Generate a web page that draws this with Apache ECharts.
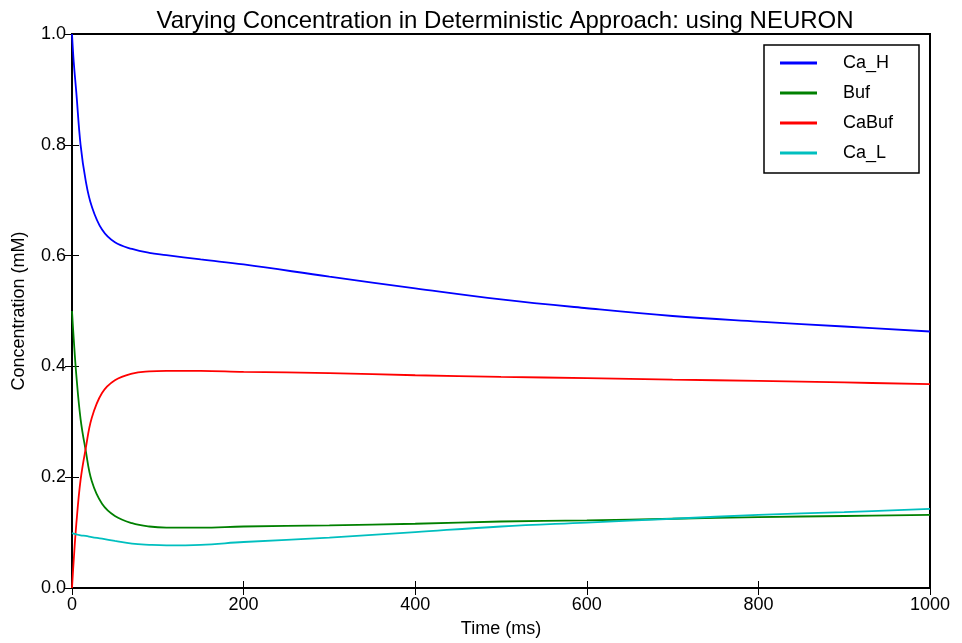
<!DOCTYPE html>
<html>
<head>
<meta charset="utf-8">
<script src="https://cdn.jsdelivr.net/npm/echarts@6/dist/echarts.min.js"></script>
<style>
html,body{margin:0;padding:0;background:#fff;}
#chart{width:962px;height:643px;}
</style>
</head>
<body>
<div id="chart"></div>
<script>
// Time points (ms)
var timeMs = [0, 2, 5, 10, 16, 23, 35, 50, 70, 90, 110, 150, 200, 300, 400, 500, 600, 700, 800, 900, 1000];
// Concentrations (mM)
var caH   = [1.0, 0.95, 0.895, 0.80, 0.735, 0.689, 0.647, 0.624, 0.612, 0.605, 0.601, 0.593, 0.584, 0.562, 0.541, 0.521, 0.505, 0.491, 0.481, 0.472, 0.463];
var buf   = [0.5, 0.45, 0.385, 0.305, 0.248, 0.193, 0.152, 0.130, 0.117, 0.111, 0.109, 0.109, 0.111, 0.113, 0.116, 0.120, 0.122, 0.125, 0.128, 0.130, 0.132];
var caBuf = [0.0, 0.05, 0.115, 0.195, 0.252, 0.307, 0.352, 0.375, 0.387, 0.391, 0.392, 0.392, 0.390, 0.388, 0.384, 0.381, 0.379, 0.376, 0.374, 0.371, 0.368];
var caL   = [0.099, 0.098, 0.097, 0.095, 0.094, 0.092, 0.089, 0.085, 0.080, 0.078, 0.077, 0.078, 0.083, 0.091, 0.101, 0.111, 0.118, 0.125, 0.132, 0.137, 0.143];
var seriesNames = ['Ca_H', 'Buf', 'CaBuf', 'Ca_L'];
var seriesColors = ['#0000ff', '#008000', '#ff0000', '#00bfbf'];
var xTicks = [0, 200, 400, 600, 800, 1000];
var yTicks = [0.0, 0.2, 0.4, 0.6, 0.8, 1.0];

function pairs(vals) {
  return timeMs.map(function (t, i) { return [t, vals[i]]; });
}
var allValues = [caH, buf, caBuf, caL];
var FONT = 'Liberation Sans, Arial, sans-serif';

var chart = echarts.init(document.getElementById('chart'), null, {renderer: 'canvas'});
var tickStyle = {show: true, inside: true, length: 7, lineStyle: {color: '#000', width: 1}};
var option = {
  animation: false,
  backgroundColor: '#fff',
  title: {
    text: 'Varying Concentration in Deterministic Approach: using NEURON',
    left: 500, top: 4, textAlign: 'center',
    textStyle: {fontFamily: FONT, fontSize: 24, fontWeight: 'normal', color: '#000'}
  },
  legend: {
    orient: 'vertical',
    left: 764, top: 45,
    padding: [8, 11, 10, 16],
    itemGap: 10,
    itemWidth: 37, itemHeight: 3,
    icon: 'rect',
    backgroundColor: '#fff',
    borderColor: '#000', borderWidth: 1.5,
    textStyle: {fontFamily: FONT, fontSize: 18, color: '#000', lineHeight: 20, width: 65, padding: [0, 0, 0, 21]},
    data: seriesNames
  },
  grid: {
    left: 72, right: 32, top: 34, bottom: 53,
    show: true, borderColor: '#000', borderWidth: 2, backgroundColor: 'transparent'
  },
  xAxis: [{
    type: 'value', min: 0, max: 1000, interval: 200,
    name: 'Time (ms)', nameLocation: 'middle', nameGap: 32,
    nameTextStyle: {fontFamily: FONT, fontSize: 18, color: '#000'},
    axisLine: {show: false},
    axisTick: tickStyle,
    splitLine: {show: false},
    axisLabel: {fontFamily: FONT, fontSize: 18, color: '#000', margin: 8,
      formatter: function (v) { return xTicks.indexOf(v) >= 0 ? String(v) : ''; }}
  }, {
    type: 'value', min: 0, max: 1000, interval: 200, position: 'top',
    axisLine: {show: false}, axisTick: tickStyle, axisLabel: {show: false}, splitLine: {show: false}
  }],
  yAxis: [{
    type: 'value', min: 0, max: 1, interval: 0.2,
    name: 'Concentration (mM)', nameLocation: 'middle', nameGap: 44,
    nameTextStyle: {fontFamily: FONT, fontSize: 18, color: '#000'},
    axisLine: {show: false},
    axisTick: tickStyle,
    splitLine: {show: false},
    axisLabel: {fontFamily: FONT, fontSize: 18, color: '#000', margin: 6,
      formatter: function (v) { return v.toFixed(1); }}
  }, {
    type: 'value', min: 0, max: 1, interval: 0.2, position: 'right',
    axisLine: {show: false}, axisTick: tickStyle, axisLabel: {show: false}, splitLine: {show: false}
  }],
  series: seriesNames.map(function (n, i) {
    return {
      name: n, type: 'line', data: pairs(allValues[i]),
      showSymbol: false, symbol: 'none', smooth: 0.4,
      lineStyle: {color: seriesColors[i], width: 1.8},
      itemStyle: {color: seriesColors[i]},
      clip: true
    };
  })
};
chart.setOption(option);
</script>
</body>
</html>
